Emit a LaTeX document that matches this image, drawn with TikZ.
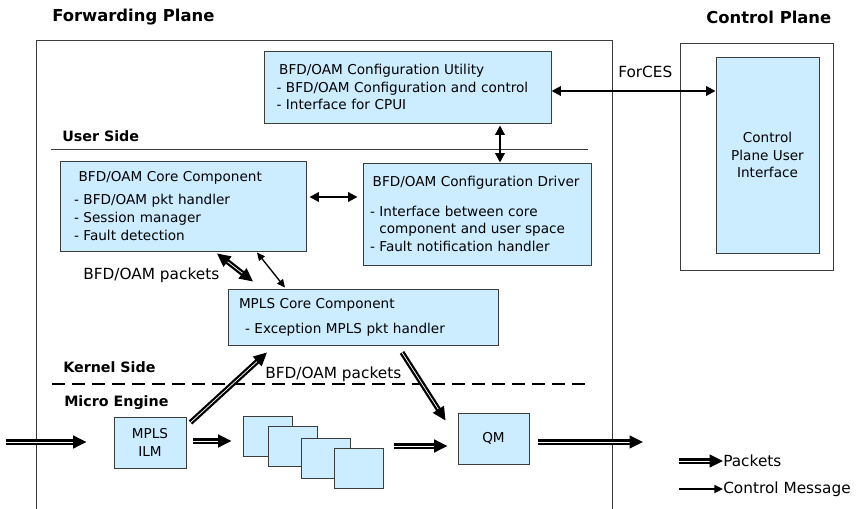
\documentclass[tikz,border=0pt]{standalone}
\usepackage{fontspec}
\setmainfont{DejaVu Sans}
\usepackage{xcolor}
\usepackage{tikz}
\usetikzlibrary{arrows.meta}

\definecolor{boxblue}{RGB}{204,236,255}
\definecolor{boxline}{RGB}{60,60,60}

\begin{document}
\begin{tikzpicture}[x=0.75pt,y=-0.75pt,
	box/.style={draw=boxline, fill=boxblue, line width=0.7pt, align=left, font=\fontsize{10.2}{13.2}\selectfont},
	title/.style={font=\fontsize{12.3}{15}\selectfont\bfseries, anchor=west, inner sep=0pt},
	side/.style={font=\fontsize{10.7}{13}\selectfont\bfseries, anchor=west, inner sep=0pt},
	lbl/.style={font=\fontsize{11.5}{13}\selectfont, anchor=west, inner sep=0pt},
	pkt/.style={line width=1.7pt, double=white, double distance=0.55pt, -{Triangle[length=10pt,width=9.5pt]}},
	pktboth/.style={line width=1.7pt, double=white, double distance=0.55pt, {Triangle[length=10pt,width=9.5pt]}-{Triangle[length=10pt,width=9.5pt]}},
	ctrl/.style={line width=1.5pt, {Triangle[length=7pt,width=7pt]}-{Triangle[length=7pt,width=7pt]}},
	thinctrl/.style={line width=1pt, {Triangle[length=6pt,width=5.5pt]}-{Triangle[length=6pt,width=5.5pt]}}]
	\useasboundingbox (0,0) rectangle (856,509);

	%% planes
	\draw[boxline, line width=0.7pt] (36,520) -- (36,40) -- (612,40) -- (612,520);
	\node[title] (fwdtitle) at (52,17) {Forwarding Plane};
	\node[title] (ctltitle) at (706,17) {Control Plane};
	\node[draw=boxline, line width=0.7pt, minimum width=114.75pt, minimum height=170.25pt] (cpouter) at (756.5,156.5) {};
	\node[box, align=center, minimum width=77.25pt, minimum height=147pt] (cpui) at (767.5,155) {Control\\Plane User\\Interface};

	%% user side
	\node[side] (userside) at (62,136) {User Side};
	\draw[boxline, line width=0.6pt] (51,149) -- (588,149);
	\node[box, text width=196.5pt, inner xsep=9.4pt, minimum height=54pt] (util) at (407.5,87)
		{\hspace*{2pt}BFD/OAM Configuration Utility\\- BFD/OAM Configuration and control\\- Interface for CPUI};
	\node[box, text width=163.5pt, inner xsep=10.5pt, minimum height=67.5pt] (core) at (183,206)
		{\hspace*{3.5pt}BFD/OAM Core Component\\[4pt]- BFD/OAM pkt handler\\- Session manager\\- Fault detection};
	\node[box, text width=160.5pt, inner xsep=5.25pt, minimum height=76.5pt] (driver) at (477,214)
		{\hspace*{2pt}BFD/OAM Configuration Driver\\[9pt]- Interface between core\\\hspace*{7pt}component and user space\\- Fault notification handler};
	\node[box, text width=186pt, inner xsep=8.25pt, minimum height=42pt] (mpls) at (363,317)
		{MPLS Core Component\\[5.5pt]\hspace*{4.5pt}- Exception MPLS pkt handler};

	%% kernel side / micro engine
	\node[side] (kernelside) at (63,367) {Kernel Side};
	\draw[line width=2.2pt, dash pattern=on 9.75pt off 5.25pt] (52,384) -- (587,384);
	\node[side] (microengine) at (64,403) {Micro Engine};
	\node[box, align=center, minimum width=54pt, minimum height=38.25pt] (ilm) at (150,442.5) {MPLS\\ILM};
	\node[box, minimum width=36.75pt, minimum height=30pt] (s1) at (267.5,436) {};
	\node[box, minimum width=36.75pt, minimum height=30pt] (s2) at (292.5,446) {};
	\node[box, minimum width=36.75pt, minimum height=30pt] (s3) at (326,458) {};
	\node[box, minimum width=36.75pt, minimum height=30pt] (s4) at (358.5,468) {};
	\node[box, align=center, minimum width=53.25pt, minimum height=38.25pt] (qm) at (493.5,438.5) {QM};

	%% labels
	\node[lbl] (forces) at (618,72) {ForCES};
	\node[lbl] (pktlbl1) at (83,275) {BFD/OAM packets};
	\node[lbl] (pktlbl2) at (265,374) {BFD/OAM packets};

	%% control messages
	\draw[ctrl] ([shift={(3,-9)}]core.east) -- ([shift={(-5,-17)}]driver.west);
	\draw[ctrl] ([shift={(92.5,2)}]util.south) -- ([shift={(23,0)}]driver.north);
	\draw[ctrl] ([shift={(0,4)}]util.east) -- ([shift={(0,-64)}]cpui.west);
	\draw[thinctrl] ([shift={(74,1)}]core.south) -- ([shift={(-78,-1)}]mpls.north);

	%% packets
	\coordinate (pktin) at (6,442);
	\coordinate (pktout) at (643,442);
	\draw[pktboth] ([shift={(34,2)}]core.south) -- ([shift={(-110,-7)}]mpls.north);
	\draw[pkt] (pktin) -- ([shift={(-27,-0.5)}]ilm.west);
	\draw[pkt] ([shift={(4,6)}]ilm.north east) -- ([shift={(-96,7)}]mpls.south);
	\draw[pkt] ([shift={(7,-1.5)}]ilm.east) -- ([shift={(-11,5)}]s1.west);
	\draw[pkt] ([shift={(11,-22)}]s4.east) -- ([shift={(-10,7.5)}]qm.west);
	\draw[pkt] ([shift={(39,7)}]mpls.south) -- ([shift={(-12,8)}]qm.north west);
	\draw[pkt] ([shift={(9,3.5)}]qm.east) -- (pktout);

	%% legend
	\coordinate (legpkt) at (679,461);
	\coordinate (legctrl) at (679,489);
	\node[lbl] (legpkttext) at (723,461) {Packets};
	\node[lbl] (legctrltext) at (723,489) {Control Message};
	\draw[pkt] (legpkt) -- (legpkttext.west);
	\draw[line width=1.1pt, -{Triangle[length=6.5pt,width=6pt]}] (legctrl) -- (legctrltext.west);
\end{tikzpicture}
\end{document}
